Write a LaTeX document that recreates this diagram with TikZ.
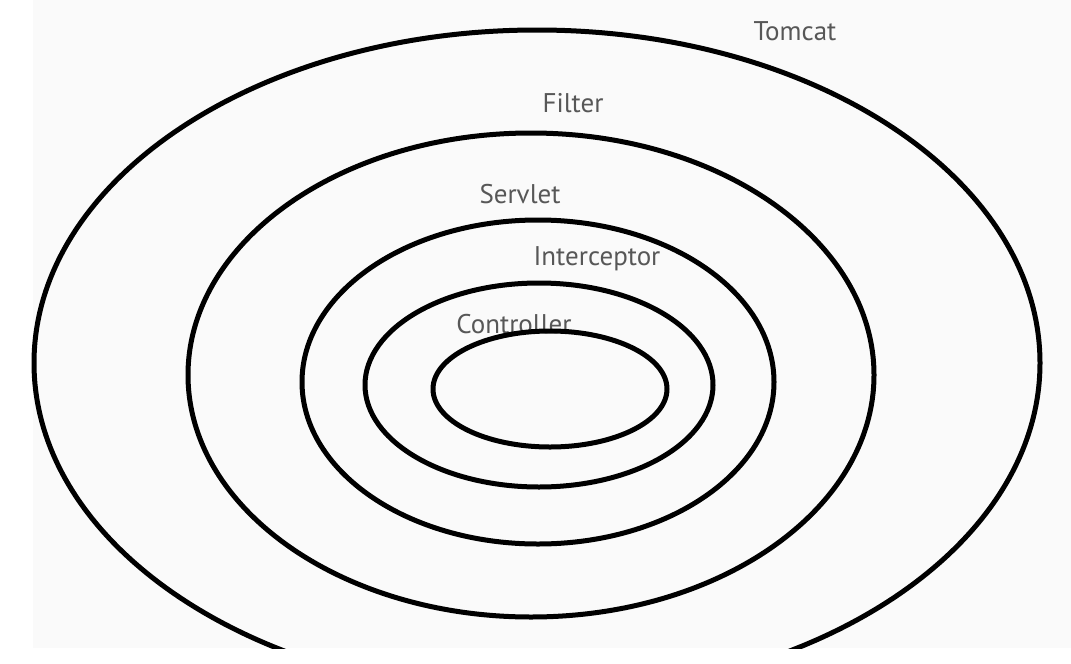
\documentclass[tikz,border=0pt]{standalone}
\usepackage{fontspec}
\setmainfont{PT Sans}
\begin{document}
\begin{tikzpicture}[x=1pt,y=-1pt,
  ring/.style={draw=black,line width=5pt},
  lbl/.style={anchor=base,text=black!66,font=\fontsize{27}{27}\selectfont,inner sep=0pt}]
\useasboundingbox (0,0) rectangle (1071,664);
\fill[white] (0,0) rectangle (1071,664);
\fill[black!2] (33,0) rectangle (1071,648);
\node[lbl] (tomcat) at (795,40) {Tomcat};
\node[lbl] (filter) at (573,112) {Filter};
\node[lbl] (servlet) at (520,203) {Servlet};
\node[lbl] (interceptor) at (597,265) {Interceptor};
\node[lbl] (controller) at (514,333) {Controller};
\begin{scope}
\clip (0,0) rectangle (1071,648);
\draw[ring] (537,363) ellipse [x radius=503, y radius=333];
\end{scope}
\draw[ring] (531,375) ellipse [x radius=343, y radius=242];
\draw[ring] (538,382) ellipse [x radius=236, y radius=162];
\draw[ring] (539,385) ellipse [x radius=174, y radius=102];
\draw[ring] (550,389) ellipse [x radius=117, y radius=58];
\end{tikzpicture}
\end{document}
